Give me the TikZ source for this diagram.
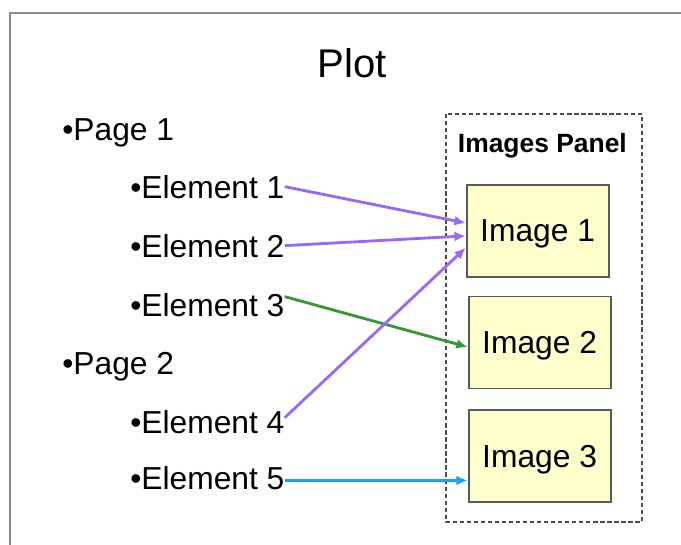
\documentclass[tikz,border=0pt]{standalone}
\usepackage{fontspec}
\setmainfont{Liberation Sans}
\definecolor{LinkPurple}{HTML}{9966FF}
\definecolor{LinkGreen}{HTML}{339933}
\definecolor{LinkBlue}{HTML}{1AA0FF}
\definecolor{ImgFill}{HTML}{FFFFCC}
\definecolor{FrameGray}{HTML}{8C8C8C}
\usetikzlibrary{arrows.meta,positioning}

\tikzset{
  itemtext/.style={inner sep=0pt,anchor=base west,font=\fontsize{22.6}{26}\selectfont},
  imgbox/.style={draw=black!65,line width=1.3pt,fill=ImgFill,minimum width=3.55cm,minimum height=2.3cm,
    text depth=0pt,font=\fontsize{22.6}{26}\selectfont},
  link/.style={line width=2pt,-{Latex[length=8pt,width=7pt]}}
}

\begin{document}
\begin{tikzpicture}
  \useasboundingbox (0,0) rectangle (17.025,-13.625);
  \draw[FrameGray,line width=1.4pt] (0.25,-13.625) -- (0.25,-0.325) -- (17.025,-0.325);
  \node[inner sep=0pt,anchor=base,font=\fontsize{28.5}{32}\selectfont] (title) at (8.8,-1.925) {Plot};

  % left column
  \node[itemtext] (p1) at (1.55,-3.5) {•Page 1};
  \node[itemtext] (e1) at (3.25,-4.95) {•Element 1};
  \node[itemtext] (e2) at (3.25,-6.425) {•Element 2};
  \node[itemtext] (e3) at (3.25,-7.9) {•Element 3};
  \node[itemtext] (p2) at (1.55,-9.35) {•Page 2};
  \node[itemtext] (e4) at (3.25,-10.825) {•Element 4};
  \node[itemtext] (e5) at (3.25,-12.225) {•Element 5};

  % panel
  \draw[black!70,line width=1pt,dash pattern=on 3pt off 2pt] (11.15,-2.85) rectangle (16.05,-13.05);
  \node[inner sep=0pt,anchor=base,font=\fontsize{18.8}{22}\selectfont\bfseries] (panel) at (13.56,-3.8) {Images Panel};
  \node[imgbox] (img1) at (13.44,-5.775) {Image 1};
  \node[imgbox] (img2) at (13.49,-8.5625) {Image 2};
  \node[imgbox] (img3) at (13.49,-11.4) {Image 3};

  \draw[link,LinkPurple] (e1.east) -- ([yshift=5.7pt]img1.west);
  \draw[link,LinkPurple] (e2.east) -- ([yshift=-3.5pt]img1.west);
  \draw[link,LinkGreen] ([yshift=5.7pt]e3.east) -- ([yshift=-3.2pt]img2.west);
  \draw[link,LinkPurple] ([yshift=2.8pt]e4.east) -- ([yshift=-12pt]img1.west);
  \draw[link,LinkBlue] ([yshift=-2pt]e5.east) -- ([yshift=-2pt]e5.east -| img3.west);
\end{tikzpicture}
\end{document}
